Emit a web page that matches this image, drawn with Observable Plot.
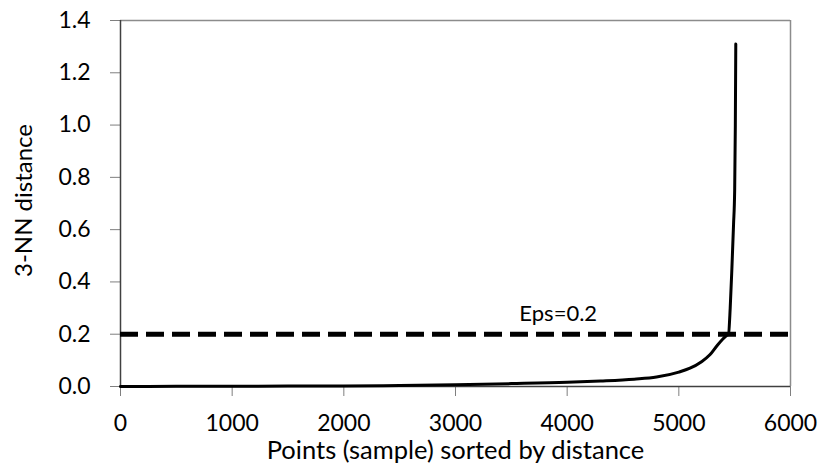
<!DOCTYPE html>
<html>
<head>
<meta charset="utf-8">
<script src="https://cdn.jsdelivr.net/npm/d3@7"></script>
<script src="https://cdn.jsdelivr.net/npm/@observablehq/plot@0.6"></script>
<style>
  html, body { margin: 0; padding: 0; background: #fff; }
  #chart svg { display: block; }
</style>
</head>
<body>
<div id="chart"></div>
<script>
// Sorted 3-NN distance curve
const pointIndex = [0, 500, 1000, 1500, 2000, 2500, 3000, 3500, 4000, 4300, 4600, 4800, 5000, 5100, 5200, 5280, 5340, 5390, 5430, 5445, 5460, 5475, 5490, 5500, 5506, 5510];
const knnDist    = [0, 0.0005, 0.001, 0.0015, 0.002, 0.004, 0.007, 0.011, 0.016, 0.021, 0.028, 0.036, 0.055, 0.07, 0.094, 0.122, 0.155, 0.18, 0.196, 0.2, 0.3, 0.45, 0.62, 0.75, 1.0, 1.31];

const epsValue = [0.2];
const epsLabel = ["Eps=0.2"];
const epsLabelX = [3920];

const xTicks = [0, 1000, 2000, 3000, 4000, 5000, 6000];
const yTicks = [0, 0.2, 0.4, 0.6, 0.8, 1.0, 1.2, 1.4];

const xTitle = ["Points (sample) sorted by distance"];
const yTitle = ["3-NN distance"];

const curve = pointIndex.map((x, i) => ({x, y: knnDist[i]}));
const epsRows = epsValue.map((v, i) => ({y: v, label: epsLabel[i], x: epsLabelX[i]}));

const font = "Lato, 'Open Sans', sans-serif";

const chart = Plot.plot({
  width: 822,
  height: 464,
  marginLeft: 120,
  marginRight: 32,
  marginTop: 20,
  marginBottom: 78,
  style: {fontFamily: font, fontSize: "23px", color: "#000", background: "#fff"},
  x: {domain: [0, 6000]},
  y: {domain: [0, 1.4]},
  marks: [
    // plot-area border
    Plot.ruleY([1.4], {stroke: "#8c8c8c", strokeWidth: 1.5, x1: 0, x2: 6000}),
    Plot.ruleX([6000], {stroke: "#8c8c8c", strokeWidth: 1.5, y1: 0, y2: 1.4}),
    Plot.axisX({
      ticks: xTicks, tickFormat: d => String(d), tickSize: 10, tickPadding: 18,
      stroke: "#7f7f7f", fontSize: 23, fill: "#000", label: null
    }),
    Plot.axisY({
      ticks: yTicks, tickFormat: () => "", tickSize: 10,
      stroke: "#7f7f7f", label: null
    }),
    Plot.text(yTicks, {y: d => d, text: d3.format(".1f"), frameAnchor: "left", textAnchor: "end", dx: -30, fontSize: 23, fill: "#000"}),
    Plot.ruleX([0], {stroke: "#404040", strokeWidth: 1.5, y1: 0, y2: 1.4}),
    Plot.ruleY([0], {stroke: "#404040", strokeWidth: 1.5, x1: 0, x2: 6000}),
    // axis titles
    Plot.text(xTitle, {text: d => d, frameAnchor: "bottom", dy: 72, fontSize: 25.5, fill: "#000"}),
    Plot.text(yTitle, {text: d => d, frameAnchor: "left", textAnchor: "middle", dx: -96, dy: -3, rotate: -90, fontSize: 24, fill: "#000"}),
    // Eps threshold
    Plot.ruleY(epsRows, {y: "y", x1: 0, x2: 6000, stroke: "#000", strokeWidth: 5, strokeDasharray: "18,8"}),
    Plot.text(epsRows, {x: "x", y: "y", text: "label", dy: -20, fontSize: 22, fill: "#000"}),
    // k-distance curve
    Plot.line(curve, {x: "x", y: "y", stroke: "#000", strokeWidth: 3, curve: "monotone-x"})
  ]
});

document.getElementById("chart").appendChild(chart);
</script>
</body>
</html>
